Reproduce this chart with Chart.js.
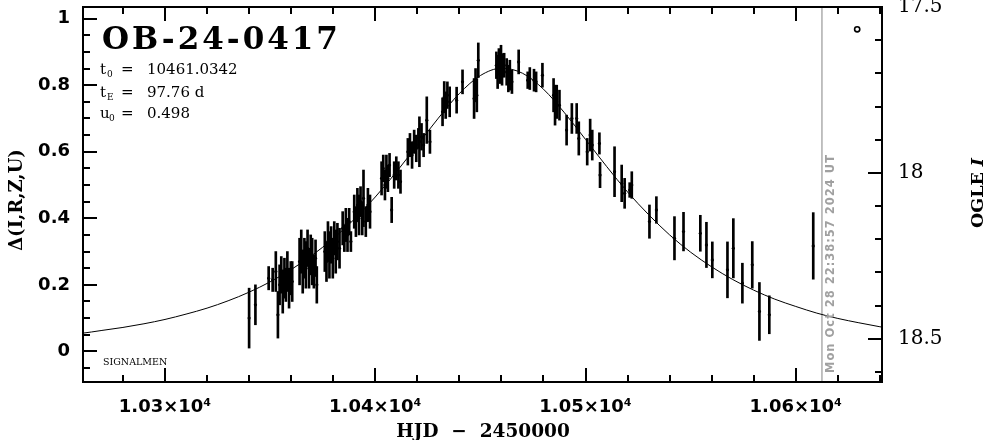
<!DOCTYPE html>
<html><head><meta charset="utf-8">
<script src="https://cdn.jsdelivr.net/npm/chart.js@4.4.1/dist/chart.umd.min.js"></script>
<style>html,body{margin:0;padding:0;background:#fff}canvas{display:block}</style>
</head><body>
<canvas id="c" width="986" height="440" style="width:986px;height:440px"></canvas>
<script>
// ---- data ----
const obsT = [10340.0,10343.0,10349.3,10351.2,10352.7,10353.7,10354.5,10355.3,10356.0,10356.8,10357.5,10358.2,10359.0,10359.8,10360.5,
10364.0,10364.8,10365.5,10366.3,10367.0,10367.8,10368.5,10369.3,10370.0,10370.8,10371.6,10372.2,
10376.0,10376.8,10377.5,10378.2,10379.0,10379.8,10380.5,10381.2,10382.0,10383.0,
10384.5,10385.3,10386.0,10386.8,10387.6,10388.4,
10390.0,10390.8,10391.5,10392.3,10393.0,10393.8,10394.4,10395.5,10396.5,10397.5,
10403.0,10403.8,10404.6,10405.3,10406.0,10406.8,10407.8,10409.0,10410.0,10411.0,10412.0,
10415.5,10416.5,10417.5,10418.5,10419.5,10420.5,10421.0,10422.0,10423.0,10424.5,10426.0,
10432.0,10432.8,10433.5,10434.3,10435.4,10438.7,10441.5,
10447.0,10447.7,10448.3,10449.0,
10457.6,10458.2,10458.8,10459.3,10459.8,10460.3,10460.8,10461.3,
10462.5,10463.3,10464.0,10465.0,10468.2,10472.5,10473.5,10475.5,10476.5,10479.5,
10484.8,10485.5,10486.3,10487.6,10491.0,10493.5,10495.8,10496.8,
10500.8,10502.2,10503.2,10506.6,10506.9,10513.8,10517.2,10518.6,10521.0,10522.0,
10530.4,10533.7,10542.3,10546.6,10554.6,10557.5,10560.3,10567.5,10570.3,10574.6,10579.3,10582.7,10587.4,10608.3];
const obsD = [0.10,0.14,0.22,0.215,0.24,0.11,0.20,0.23,0.18,0.22,0.20,0.24,0.19,0.22,0.21,
0.27,0.30,0.24,0.28,0.26,0.31,0.25,0.29,0.27,0.24,0.28,0.20,
0.30,0.27,0.33,0.29,0.32,0.28,0.34,0.30,0.33,0.31,
0.37,0.34,0.38,0.35,0.39,0.33,
0.42,0.39,0.44,0.41,0.45,0.40,0.46,0.39,0.44,0.42,
0.52,0.55,0.50,0.54,0.52,0.56,0.425,0.53,0.55,0.53,0.51,
0.60,0.62,0.59,0.63,0.61,0.64,0.63,0.645,0.62,0.695,0.63,
0.72,0.764,0.74,0.77,0.75,0.755,0.81,
0.76,0.80,0.77,0.875,
0.86,0.84,0.87,0.85,0.88,0.84,0.86,0.86,
0.84,0.82,0.83,0.81,0.87,0.815,0.82,0.815,0.81,0.83,
0.77,0.74,0.75,0.74,0.665,0.70,0.70,0.64,
0.60,0.65,0.62,0.625,0.53,0.54,0.505,0.475,0.485,0.50,
0.39,0.425,0.34,0.36,0.355,0.32,0.275,0.245,0.31,0.205,0.26,0.12,0.11,0.317];
const obsE = [0.09,0.06,0.035,0.035,0.06,0.07,0.06,0.055,0.065,0.06,0.05,0.06,0.06,0.05,0.06,
0.07,0.065,0.065,0.06,0.07,0.055,0.06,0.06,0.07,0.05,0.055,0.055,
0.06,0.06,0.06,0.07,0.055,0.06,0.05,0.065,0.055,0.06,
0.05,0.04,0.05,0.05,0.04,0.03,
0.05,0.045,0.05,0.06,0.045,0.05,0.085,0.045,0.05,0.05,
0.05,0.04,0.045,0.05,0.04,0.035,0.038,0.04,0.035,0.04,0.035,
0.04,0.035,0.04,0.035,0.04,0.03,0.075,0.04,0.035,0.07,0.035,
0.042,0.047,0.04,0.04,0.045,0.039,0.036,
0.06,0.05,0.05,0.052,
0.04,0.05,0.04,0.045,0.04,0.04,0.035,0.036,
0.04,0.04,0.045,0.035,0.036,0.025,0.033,0.033,0.03,0.036,
0.05,0.06,0.05,0.045,0.045,0.045,0.045,0.05,
0.04,0.048,0.045,0.032,0.038,0.075,0.055,0.045,0.022,0.04,
0.05,0.04,0.065,0.058,0.054,0.068,0.054,0.084,0.089,0.06,0.07,0.087,0.057,0.10];
// model curve
const modelT = [10250,10260,10270,10280,10290,10300,10310,10320,10330,10340,10350,10360,10370,10380,10390,10400,10410,10420,10430,10440,10450,10460,10470,10480,10490,10500,10510,10520,10530,10540,10550,10560,10570,10580,10590,10600,10610,10620,10630,10640,10650];
const modelD = [0.048,0.054,0.063,0.072,0.083,0.096,0.112,0.130,0.152,0.178,0.209,0.246,0.289,0.339,0.397,0.464,0.539,0.620,0.701,0.775,0.829,0.851,0.836,0.788,0.717,0.637,0.556,0.479,0.411,0.350,0.298,0.254,0.216,0.184,0.157,0.135,0.115,0.099,0.086,0.074,0.064];
const markerT = [10629.2];
const markerD = [0.968];
const nowT = 10612.44;
const xTickValues = [10300,10400,10500,10600];
const xTickLabels = ['1.03×10⁴','1.04×10⁴','1.05×10⁴','1.06×10⁴'];
const yTickValues = [0,0.2,0.4,0.6,0.8,1];
const yTickLabels = ['0','0.2','0.4','0.6','0.8','1'];
const magTickValues = [17.5,18,18.5];
const magTickLabels = ['17.5','18','18.5'];
const titleText = 'OB-24-0417';
const paramNames = ['t','t','u'];
const paramSubs = ['0','E','0'];
const paramValues = ['10461.0342','97.76 d','0.498'];
const stampText = 'Mon Oct 28 22:38:57 2024 UT';

// ---- chart ----
const GRAY = '#a0a0a0';
const noPad = s => { s.paddingTop = 0; s.paddingBottom = 0; s.paddingLeft = 0; s.paddingRight = 0; };
const framePlugin = {
  id: 'frame',
  afterDatasetsDraw(chart) {
    const {ctx, chartArea: a, scales} = chart;
    ctx.save();
    ctx.strokeStyle = '#000';
    ctx.lineWidth = 2;
    ctx.beginPath();
    for (let t = 10280; t <= 10640; t += 20) {
      const px = Math.round(scales.x.getPixelForValue(t));
      const L = (t % 100 === 0) ? 14 : 7;
      ctx.moveTo(px, a.bottom); ctx.lineTo(px, a.bottom - L);
      ctx.moveTo(px, a.top); ctx.lineTo(px, a.top + L);
    }
    for (let i = -1; i <= 20; i++) {
      const py = Math.round(scales.y.getPixelForValue(i * 0.05));
      const L = (i % 4 === 0) ? 14 : 7;
      ctx.moveTo(a.left, py); ctx.lineTo(a.left + L, py);
    }
    for (let i = 1; i <= 11; i++) {
      const py = Math.round(scales.yR.getPixelForValue(17.5 + i * 0.1));
      const L = (i % 5 === 0) ? 14 : 7;
      ctx.moveTo(a.right, py); ctx.lineTo(a.right - L, py);
    }
    ctx.stroke();
    ctx.strokeRect(a.left, a.top, a.right - a.left, a.bottom - a.top);
    ctx.restore();
  },
  afterDraw(chart) {
    const {ctx, chartArea: a, scales} = chart;
    ctx.save();
    ctx.fillStyle = '#000';
    ctx.textBaseline = 'alphabetic';
    // title
    ctx.font = 'bold 31px "DejaVu Serif"';
    ctx.letterSpacing = '3px';
    ctx.fillText(titleText, 102, 49);
    ctx.letterSpacing = '0px';
    // parameters
    const bases = [74, 96.5, 118];
    for (let i = 0; i < 3; i++) {
      ctx.font = '15px "DejaVu Serif"';
      ctx.fillText(paramNames[i], 100, bases[i]);
      ctx.font = '9px "DejaVu Serif"';
      ctx.fillText(paramSubs[i], paramNames[i] === 'u' ? 109 : 107, bases[i] + 3);
      ctx.font = '15px "DejaVu Serif"';
      ctx.fillText('=', 121, bases[i]);
      ctx.fillText(paramValues[i], 147, bases[i]);
    }
    // SIGNALMEN
    ctx.font = '9.5px "DejaVu Serif"';
    ctx.fillText('SIGNALMEN', 103, 365);
    // x title
    ctx.font = 'bold 18.5px "DejaVu Serif"';
    ctx.textAlign = 'center';
    ctx.fillText('HJD  −  2450000', 483, 437);
    // left title
    ctx.save();
    ctx.translate(22, 200);
    ctx.rotate(-Math.PI / 2);
    ctx.font = 'bold 18px "DejaVu Serif"';
    ctx.fillText('Δ(I,R,Z,U)', 0, 0);
    ctx.restore();
    // right title
    ctx.save();
    ctx.translate(983, 193);
    ctx.rotate(-Math.PI / 2);
    ctx.textAlign = 'left';
    ctx.font = 'bold 17.5px "DejaVu Serif"';
    const w1 = ctx.measureText('OGLE ').width;
    ctx.font = 'italic bold 17.5px "DejaVu Serif"';
    const w2 = ctx.measureText('I').width;
    const x0 = -(w1 + w2) / 2;
    ctx.font = 'bold 17.5px "DejaVu Serif"';
    ctx.fillText('OGLE ', x0, 0);
    ctx.font = 'italic bold 17.5px "DejaVu Serif"';
    ctx.fillText('I', x0 + w1, 0);
    ctx.restore();
    // timestamp
    ctx.save();
    const px = scales.x.getPixelForValue(nowT);
    ctx.translate(px + 12, 373);
    ctx.rotate(-Math.PI / 2);
    ctx.textAlign = 'left';
    ctx.fillStyle = GRAY;
    ctx.font = 'bold 11.5px "DejaVu Sans"';
    ctx.letterSpacing = '1px';
    ctx.fillText(stampText, 0, 0);
    ctx.restore();
    ctx.restore();
  }
};

new Chart(document.getElementById('c'), {
  type: 'scatter',
  data: {
    datasets: [
      {
        type: 'line', label: 'now', xAxisID: 'x', yAxisID: 'y',
        data: [{x: nowT, y: -0.2}, {x: nowT, y: 1.2}],
        borderColor: GRAY, borderWidth: 1.3, pointRadius: 0, fill: false, order: 5
      },
      {
        type: 'line', label: 'model', xAxisID: 'x', yAxisID: 'y',
        data: modelT.map((t, i) => ({x: t, y: modelD[i]})),
        borderColor: '#000', borderWidth: 1, pointRadius: 0, fill: false,
        cubicInterpolationMode: 'monotone', order: 4
      },
      {
        type: 'bar', label: 'errors', xAxisID: 'x', yAxisID: 'y',
        data: obsT.map((t, i) => ({x: t, y: [obsD[i] - obsE[i], obsD[i] + obsE[i]]})),
        backgroundColor: '#000', borderWidth: 0, barThickness: 2, grouped: false, order: 3
      },
      {
        type: 'scatter', label: 'obs', xAxisID: 'x', yAxisID: 'y',
        data: obsT.map((t, i) => ({x: t, y: obsD[i]})),
        backgroundColor: '#000', borderWidth: 0, pointRadius: 1.6, order: 2
      },
      {
        type: 'scatter', label: 'marker', xAxisID: 'x', yAxisID: 'y',
        data: markerT.map((t, i) => ({x: t, y: markerD[i]})),
        backgroundColor: '#fff', borderColor: '#000', borderWidth: 1.6, pointRadius: 2.6, order: 1
      }
    ]
  },
  options: {
    responsive: false, animation: false, devicePixelRatio: 1,
    layout: {padding: {top: 7, left: 0, right: 0, bottom: 0}},
    plugins: {legend: {display: false}, tooltip: {enabled: false}},
    scales: {
      x: {
        type: 'linear', position: 'bottom', min: 10261, max: 10641, offset: false,
        grid: {display: false, drawTicks: false, offset: false},
        border: {display: false},
        afterBuildTicks: s => { s.ticks = xTickValues.map(v => ({value: v})); },
        afterFit: s => { s.height = 58; noPad(s); },
        ticks: {
          autoSkip: false, maxRotation: 0, padding: 15, color: '#000',
          font: {family: 'DejaVu Sans', weight: 'bold', size: 18},
          callback: (v) => xTickLabels[xTickValues.indexOf(v)]
        }
      },
      y: {
        type: 'linear', position: 'left', min: -0.092, max: 1.035,
        grid: {display: false, drawTicks: false},
        border: {display: false},
        afterBuildTicks: s => { s.ticks = yTickValues.map(v => ({value: v})); },
        afterFit: s => { s.width = 83; noPad(s); },
        ticks: {
          autoSkip: false, padding: 13, color: '#000',
          font: {family: 'DejaVu Sans', weight: 'bold', size: 18},
          callback: (v) => yTickLabels[yTickValues.indexOf(v)]
        }
      },
      yR: {
        type: 'linear', position: 'right', min: 17.5, max: 18.63, reverse: true,
        grid: {display: false, drawTicks: false},
        border: {display: false},
        afterBuildTicks: s => { s.ticks = magTickValues.map(v => ({value: v})); },
        afterFit: s => { s.width = 104; noPad(s); },
        ticks: {
          autoSkip: false, padding: 16, color: '#000',
          font: {family: 'DejaVu Serif', size: 20},
          callback: (v) => magTickLabels[magTickValues.indexOf(v)]
        }
      }
    }
  },
  plugins: [framePlugin]
});
</script>
</body></html>
